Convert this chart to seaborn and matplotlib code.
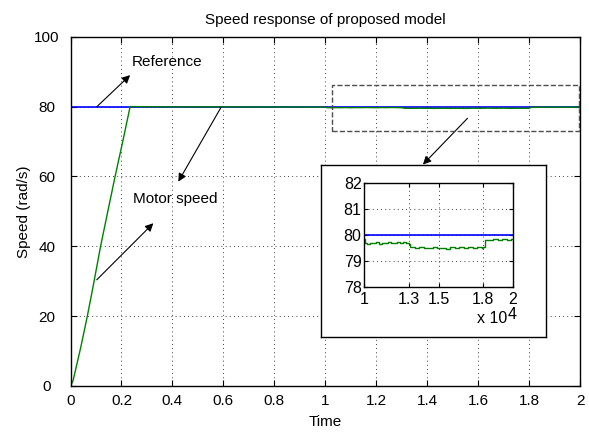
import numpy as np
import pandas as pd
import matplotlib
matplotlib.use('Agg')
import matplotlib.pyplot as plt
from matplotlib.patches import Rectangle
import seaborn as sns

# Reference speed (rad/s)
ref_time = [0.0, 2.0]
ref_speed = [80.0, 80.0]

# Motor speed: start-up ramp and settled part
motor_time = [0.0, 0.01, 0.04, 0.066, 0.09, 0.118, 0.145, 0.175, 0.205, 0.234,
              0.4, 0.6, 0.8, 0.99]
motor_speed = [0.0, 1.5, 11.0, 20.0, 29.0, 40.0, 49.5, 60.0, 70.0, 80.0,
               79.9, 79.9, 79.88, 79.85]

# Motor speed in the zoomed window
zoom_time = [1.00, 1.005, 1.02, 1.04, 1.06, 1.08, 1.10, 1.12, 1.14, 1.16, 1.18, 1.20,
             1.22, 1.24, 1.26, 1.28, 1.30,
             1.31, 1.34, 1.37, 1.40, 1.43, 1.46, 1.49, 1.52, 1.55, 1.58, 1.61, 1.64,
             1.67, 1.70, 1.73, 1.76, 1.79,
             1.80, 1.81, 1.84, 1.87, 1.90, 1.93, 1.96, 1.99, 2.00]
zoom_speed = [79.85, 79.70, 79.66, 79.70, 79.68, 79.72, 79.67, 79.71, 79.69, 79.73, 79.70, 79.68,
              79.72, 79.69, 79.74, 79.70, 79.67,
              79.52, 79.49, 79.53, 79.50, 79.48, 79.52, 79.49, 79.51, 79.47, 79.53, 79.50, 79.55,
              79.51, 79.54, 79.49, 79.52, 79.50,
              79.52, 79.82, 79.80, 79.84, 79.81, 79.83, 79.80, 79.84, 79.82]

x_ticks = [0, 0.2, 0.4, 0.6, 0.8, 1.0, 1.2, 1.4, 1.6, 1.8, 2.0]
x_labels = ['0', '0.2', '0.4', '0.6', '0.8', '1', '1.2', '1.4', '1.6', '1.8', '2']
y_ticks = [0, 20, 40, 60, 80, 100]
inset_x_ticks = [1.0e4, 1.3e4, 1.5e4, 1.8e4, 2.0e4]
inset_x_labels = ['1', '1.3', '1.5', '1.8', '2']
inset_y_ticks = [78, 79, 80, 81, 82]

sns.set_style('white')
plt.rcParams['font.family'] = ['Liberation Sans', 'DejaVu Sans']
plt.rcParams['text.color'] = 'black'
plt.rcParams['axes.labelcolor'] = 'black'
plt.rcParams['xtick.color'] = 'black'
plt.rcParams['ytick.color'] = 'black'

INSET_FONT = ['Liberation Sans Narrow', 'Liberation Sans', 'DejaVu Sans']

ref_df = pd.DataFrame({'time': ref_time, 'speed': ref_speed})
motor_df = pd.DataFrame({'time': motor_time + zoom_time, 'speed': motor_speed + zoom_speed})

BLUE = '#0000ff'
GREEN = '#008000'
grid_kw = dict(color='black', linestyle=(0, (1, 4)), linewidth=0.6)

fig = plt.figure(figsize=(5.89, 4.36), dpi=100)
ax = fig.add_axes([0.1197, 0.1147, 0.8653, 0.8011])

sns.lineplot(data=ref_df, x='time', y='speed', ax=ax, color=BLUE, linewidth=1.2,
             estimator=None, sort=False)
sns.lineplot(data=motor_df, x='time', y='speed', ax=ax, color=GREEN, linewidth=1.0,
             estimator=None, sort=False)

ax.set_xlim(0, 2)
ax.set_ylim(0, 100)
ax.set_xticks(x_ticks)
ax.set_xticklabels(x_labels)
ax.set_yticks(y_ticks)
ax.grid(True, **grid_kw)
ax.tick_params(direction='in', top=True, right=True, bottom=True, left=True,
               length=4, width=0.8, labelsize=11)
ax.tick_params(axis='x', pad=6)
ax.tick_params(axis='y', pad=17)
for lab in ax.get_yticklabels():
    lab.set_horizontalalignment('center')
for s in ax.spines.values():
    s.set_color('black')
    s.set_linewidth(1.0)
ax.set_title('Speed response of proposed model', fontsize=11, pad=9)
ax.set_xlabel('Time', fontsize=11, labelpad=5)
ax.set_ylabel('Speed (rad/s)', fontsize=11, labelpad=2)

# zoom window marker
ax.add_patch(Rectangle((1.028, 73.1), 0.969, 13.1, fill=False, linestyle='--',
                       edgecolor='0.3', linewidth=1.0, zorder=5))

arrow = dict(arrowstyle='-|>', color='black', lw=0.8, mutation_scale=12,
             shrinkA=0, shrinkB=0)
ax.annotate('', xy=(0.234, 89.0), xytext=(0.104, 80.0), arrowprops=arrow)
ax.text(0.377, 92.8, 'Reference', ha='center', va='center', fontsize=11)
ax.annotate('', xy=(0.325, 46.6), xytext=(0.103, 30.4), arrowprops=arrow)
ax.annotate('', xy=(0.423, 58.5), xytext=(0.59, 79.7), arrowprops=arrow)
ax.text(0.41, 53.6, 'Motor speed', ha='center', va='center', fontsize=11)
ax.annotate('', xy=(1.383, 63.4), xytext=(1.558, 76.65), arrowprops=arrow)

# inset frame
box = fig.add_axes([0.545, 0.2264, 0.3815, 0.3952], zorder=3)
box.set_facecolor('white')
box.set_xticks([])
box.set_yticks([])
for s in box.spines.values():
    s.set_color('black')
    s.set_linewidth(1.0)

# inset axes
ax_in = fig.add_axes([0.6185, 0.3424, 0.252, 0.2372], zorder=4)
inset_ref = ref_df.assign(time=ref_df['time'] * 1e4)
inset_motor = motor_df.assign(time=motor_df['time'] * 1e4)
sns.lineplot(data=inset_ref, x='time', y='speed', ax=ax_in, color=BLUE, linewidth=1.2,
             estimator=None, sort=False)
sns.lineplot(data=inset_motor, x='time', y='speed', ax=ax_in, color=GREEN, linewidth=1.0,
             estimator=None, sort=False, drawstyle='steps-post')
ax_in.set_xlim(1e4, 2e4)
ax_in.set_ylim(78, 82)
ax_in.set_xticks(inset_x_ticks)
ax_in.set_xticklabels(inset_x_labels)
ax_in.set_yticks(inset_y_ticks)
ax_in.set_xlabel('')
ax_in.set_ylabel('')
ax_in.grid(True, **grid_kw)
ax_in.tick_params(direction='in', top=True, right=True, bottom=True, left=True,
                  length=3, width=0.8)
ax_in.tick_params(axis='x', pad=4)
ax_in.tick_params(axis='y', pad=2)
for lab in ax_in.get_xticklabels() + ax_in.get_yticklabels():
    lab.set_family(INSET_FONT)
    lab.set_fontsize(11.5)
for s in ax_in.spines.values():
    s.set_color('black')
    s.set_linewidth(1.0)
# MATLAB-style exponent under the axis
ax_in.text(0.962, -0.312, 'x 10', transform=ax_in.transAxes, ha='right', va='center',
           fontsize=11.5, family=INSET_FONT)
ax_in.text(0.968, -0.20, '4', transform=ax_in.transAxes, ha='left', va='top',
           fontsize=11.5, family=INSET_FONT)

fig.savefig('out.png', dpi=100)
